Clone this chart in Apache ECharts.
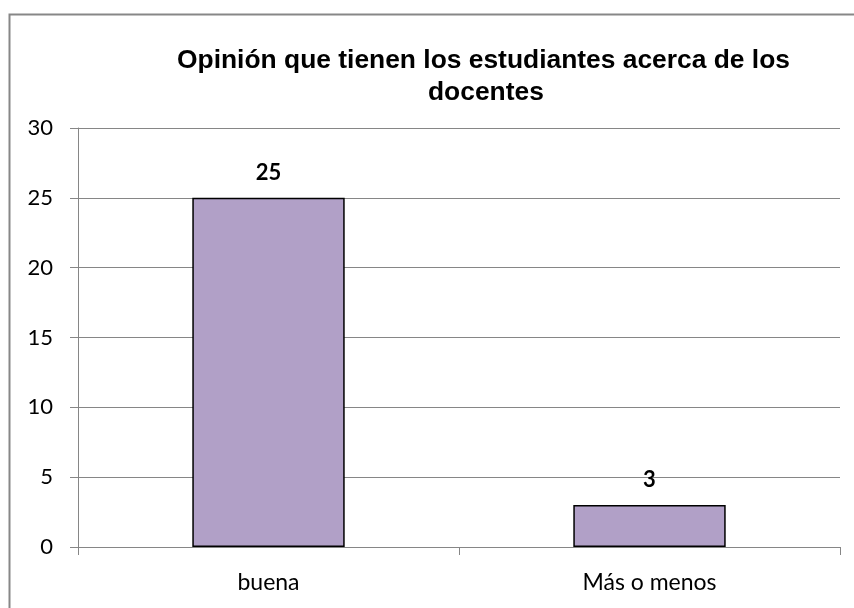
<!DOCTYPE html>
<html>
<head>
<meta charset="utf-8">
<style>
html,body{margin:0;padding:0;background:#fff;}
#chart{width:854px;height:608px;}
</style>
<script src="https://cdn.jsdelivr.net/npm/echarts@6/dist/echarts.min.js"></script>
</head>
<body>
<div id="chart"></div>
<script>
var categories = ['buena', 'Más o menos'];
var values = [25, 3];
var yTicks = [0, 5, 10, 15, 20, 25, 30];
var titleLine1 = 'Opinión que tienen los estudiantes acerca de los';
var titleLine2 = 'docentes';

var chart = echarts.init(document.getElementById('chart'));
var labelFont = 'Lato, "Open Sans", sans-serif';
var titleFont = '"Liberation Sans", Arial, sans-serif';
chart.setOption({
  animation: false,
  backgroundColor: '#ffffff',
  title: [
    {text: titleLine1, left: 177, top: 48, padding: 0,
     textStyle: {fontFamily: titleFont, fontWeight: 'bold', fontSize: 26.4, color: '#000'}},
    {text: titleLine2, left: 428, top: 80, padding: 0,
     textStyle: {fontFamily: titleFont, fontWeight: 'bold', fontSize: 26.4, color: '#000'}}
  ],
  graphic: [
    {type: 'polyline', shape: {points: [[9.5, 608], [9.5, 14.5], [854, 14.5]]},
     style: {stroke: '#878787', lineWidth: 2, fill: null}, silent: true}
  ],
  grid: {left: 78, right: 14, top: 128, bottom: 61, containLabel: false},
  xAxis: {
    type: 'category',
    data: categories,
    boundaryGap: true,
    axisLine: {show: true, lineStyle: {color: '#868686', width: 1}},
    axisTick: {show: true, length: 8, lineStyle: {color: '#868686'}},
    axisLabel: {margin: 24, fontFamily: labelFont, fontSize: 23, color: '#000'},
    splitLine: {show: false}
  },
  yAxis: {
    type: 'value',
    min: yTicks[0],
    max: yTicks[yTicks.length - 1],
    interval: 5,
    axisLine: {show: true, lineStyle: {color: '#868686', width: 1}},
    axisTick: {show: true, length: 8, lineStyle: {color: '#868686'}},
    axisLabel: {margin: 25, fontFamily: labelFont, fontSize: 22, color: '#000'},
    splitLine: {show: true, lineStyle: {color: '#868686', width: 1}}
  },
  series: [{
    type: 'bar',
    data: values,
    barCategoryGap: '60%',
    itemStyle: {color: '#B1A0C7', borderColor: '#000', borderWidth: 1.5},
    label: {show: true, position: 'top', distance: 14,
            fontFamily: labelFont, fontWeight: 'bold', fontSize: 22, color: '#000'}
  }]
});
</script>
</body>
</html>
